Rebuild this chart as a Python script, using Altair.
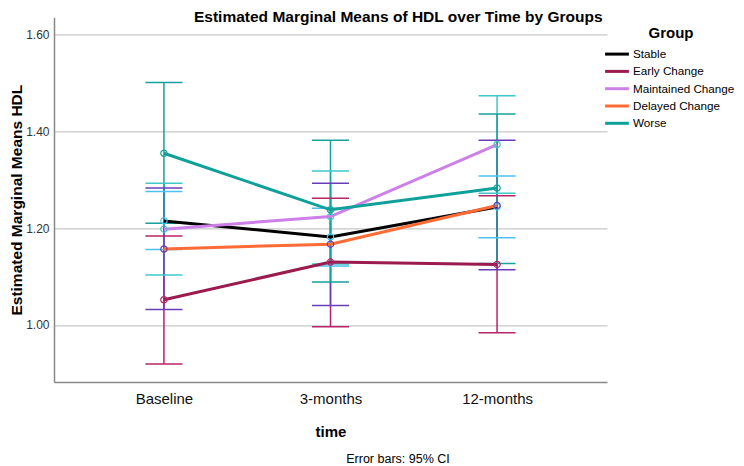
import altair as alt
import pandas as pd

# ---- data ----
times = ["Baseline", "3-months", "12-months"]
groups = ["Stable", "Early Change", "Maintained Change", "Delayed Change", "Worse"]

stable_mean = [1.215, 1.182, 1.244]
stable_lo = [1.156, 1.122, 1.180]
stable_hi = [1.276, 1.241, 1.308]

early_mean = [1.052, 1.130, 1.125]
early_lo = [0.919, 0.996, 0.984]
early_hi = [1.184, 1.262, 1.267]

maint_mean = [1.198, 1.224, 1.373]
maint_lo = [1.103, 1.126, 1.272]
maint_hi = [1.293, 1.318, 1.474]

delayed_mean = [1.157, 1.167, 1.247]
delayed_lo = [1.032, 1.040, 1.114]
delayed_hi = [1.283, 1.293, 1.382]

worse_mean = [1.355, 1.238, 1.283]
worse_lo = [1.210, 1.089, 1.127]
worse_hi = [1.501, 1.382, 1.436]

line_colors = ["#000000", "#9b1b4e", "#cc80e8", "#ff6b35", "#10a09a"]
bar_colors = ["#4cc0f2", "#b8236a", "#3ec8c8", "#6a3db8", "#16a19c"]

title_text = "Estimated Marginal Means of HDL over Time by Groups"
footnote = "Error bars: 95% CI"

series = {
    "Stable": (stable_mean, stable_lo, stable_hi),
    "Early Change": (early_mean, early_lo, early_hi),
    "Maintained Change": (maint_mean, maint_lo, maint_hi),
    "Delayed Change": (delayed_mean, delayed_lo, delayed_hi),
    "Worse": (worse_mean, worse_lo, worse_hi),
}
rows = []
for g in groups:
    m, lo, hi = series[g]
    for i, t in enumerate(times):
        rows.append({"time": t, "group": g, "mean": m[i], "lo": lo[i], "hi": hi[i]})
df = pd.DataFrame(rows)

FONT = "Liberation Sans"
W, H = 553, 364.7

xenc = alt.X(
    "time:N", sort=times,
    scale=alt.Scale(type="point", padding=0.66),
    axis=alt.Axis(
        title="time", titleFontSize=15, titleFontWeight="bold", titleFont=FONT,
        titleColor="#000000", titleBaseline="alphabetic", titleY=54,
        labelFontSize=15, labelFont=FONT, labelColor="#111111", labelAngle=0,
        labelBaseline="alphabetic", labelPadding=21,
        ticks=False, tickSize=0, domainColor="#888888", domainWidth=1.5, grid=False,
    ),
)
yscale = alt.Scale(domain=[0.882, 1.636], nice=False, zero=False)
yaxis = alt.Axis(
    title="Estimated Marginal Means HDL", titleFontSize=15.5, titleFontWeight="bold",
    titleFont=FONT, titleColor="#000000", titleAngle=-90, titleBaseline="alphabetic",
    titleX=-33, titleY=H / 2, titleAlign="center",
    values=[1.0, 1.2, 1.4, 1.6], format=".2f",
    labelFontSize=12, labelFont=FONT, labelColor="#333333", labelPadding=5,
    ticks=False, tickSize=0, domainColor="#888888", domainWidth=1.5,
    grid=True, gridColor="#c8c8c8", gridWidth=1.3,
)

err_color = alt.Color("group:N", scale=alt.Scale(domain=groups, range=bar_colors), legend=None)
line_color = alt.Color(
    "group:N", scale=alt.Scale(domain=groups, range=line_colors),
    legend=alt.Legend(
        title="Group", orient="none", legendX=553, legendY=9, padding=0,
        titleFont=FONT, titleFontSize=15, titleFontWeight="bold", titleColor="#000000",
        titleAnchor="middle", titlePadding=2.8,
        labelFont=FONT, labelFontSize=11.7, labelColor="#000000", labelOffset=6,
        symbolType="M-1.4,0H1.4", symbolSize=289, symbolStrokeWidth=3,
        rowPadding=0.3,
    ),
)

base = alt.Chart(df).encode(x=xenc)

rules = base.mark_rule(strokeWidth=1.5).encode(
    y=alt.Y("lo:Q", scale=yscale, axis=yaxis), y2="hi:Q", color=err_color
)
cap_lo = base.mark_tick(orient="horizontal", size=37, thickness=1.5, opacity=1).encode(
    y=alt.Y("lo:Q", scale=yscale), color=err_color
)
cap_hi = base.mark_tick(orient="horizontal", size=37, thickness=1.5, opacity=1).encode(
    y=alt.Y("hi:Q", scale=yscale), color=err_color
)
lines = base.mark_line(strokeWidth=3).encode(
    y=alt.Y("mean:Q", scale=yscale), color=line_color
)
points = base.mark_point(shape="circle", filled=False, size=40, strokeWidth=1.2, opacity=1).encode(
    y=alt.Y("mean:Q", scale=yscale), color=err_color
)
note = alt.Chart(pd.DataFrame({"t": [footnote]})).mark_text(
    font=FONT, fontSize=12.5, color="#000000", align="center", baseline="alphabetic"
).encode(text="t:N", x=alt.value(344), y=alt.value(446))

chart = (
    alt.layer(rules, cap_lo, cap_hi, lines, points, note)
    .resolve_scale(color="independent")
    .properties(
        width=W, height=H,
        autosize=alt.AutoSizeParams(type="none"),
        padding={"left": 46, "top": 9.3, "right": 129, "bottom": 84},
        background="white",
        title=alt.TitleParams(
            text=title_text, font=FONT, fontSize=15.5, fontWeight="bold", color="#000000",
            anchor="start", frame="group", dx=140, baseline="alphabetic", offset=-2, dy=18,
        ),
    )
    .configure_view(strokeWidth=0, stroke="transparent")
)

chart.save("out.html", embed_options={"renderer": "svg", "actions": False})
